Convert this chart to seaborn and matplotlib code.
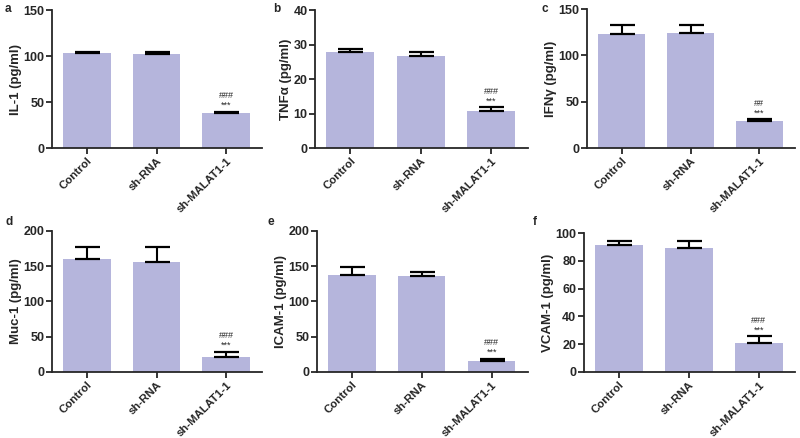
import numpy as np
import pandas as pd
import matplotlib
matplotlib.use("Agg")
import matplotlib.pyplot as plt
import seaborn as sns

sns.set_style("ticks")
plt.rcParams['font.family'] = ['Liberation Sans', 'DejaVu Sans']

groups = ["Control", "sh-RNA", "sh-MALAT1-1"]

panel_letters = ["a", "b", "c", "d", "e", "f"]
ylabels = ["IL-1 (pg/ml)", "TNF\u03b1 (pg/ml)", "IFN\u03b3 (pg/ml)",
           "Muc-1 (pg/ml)", "ICAM-1 (pg/ml)", "VCAM-1 (pg/ml)"]
il1 = [103, 102.5, 38]
il1_err = [1.5, 1.5, 1.2]
tnf = [27.7, 26.7, 10.8]
tnf_err = [1.0, 1.0, 1.0]
ifn = [123, 124, 29]
ifn_err = [10, 8.5, 2]
muc = [160, 156, 21]
muc_err = [17, 21, 7]
icam = [137, 136, 15]
icam_err = [12, 6, 3]
vcam = [91.5, 89.5, 20.5]
vcam_err = [3, 5, 5]
ymax = [150, 40, 150, 200, 200, 100]
ystep = [50, 10, 50, 50, 50, 20]
marks = ["###", "###", "##", "###", "###", "###"]

means = [il1, tnf, ifn, muc, icam, vcam]
errs = [il1_err, tnf_err, ifn_err, muc_err, icam_err, vcam_err]

bar_color = "#b5b5dc"

# axes boxes in figure fractions [left, bottom, width, height]
boxes = [
    [0.065, 0.662, 0.263, 0.315],
    [0.394, 0.662, 0.266, 0.315],
    [0.734, 0.662, 0.260, 0.317],
    [0.065, 0.151, 0.263, 0.322],
    [0.396, 0.151, 0.264, 0.322],
    [0.730, 0.151, 0.264, 0.317],
]
# panel letter positions in pixels (x from left, y from top)
letter_px = [(5, 3), (273, 3), (541, 3), (5, 216), (268, 216), (533, 216)]

fig = plt.figure(figsize=(8, 4.38), dpi=100)

for i in range(6):
    ax = fig.add_axes(boxes[i])
    df = pd.DataFrame({"group": groups, "value": means[i]})
    sns.barplot(data=df, x="group", y="value", color=bar_color, saturation=1,
                width=0.68, errorbar=None, ax=ax)
    for p in ax.patches:
        p.set_edgecolor("none")
    x = np.arange(len(groups))
    ax.errorbar(x, means[i], yerr=[np.zeros(3), errs[i]], fmt="none",
                ecolor="black", elinewidth=1.5, capsize=9, capthick=1.6)
    top3 = means[i][2] + errs[i][2]
    # significance marks stacked above the last bar
    ax.annotate("***", (2, top3), xytext=(0, 1.5), textcoords="offset points",
                ha="center", va="bottom", fontsize=6.5)
    ax.annotate(marks[i], (2, top3), xytext=(0, 8.5), textcoords="offset points",
                ha="center", va="bottom", fontsize=6.5)
    ax.set_ylim(0, ymax[i])
    ax.set_yticks(np.arange(0, ymax[i] + 1, ystep[i]))
    ax.set_xlim(-0.5, 2.52)
    ax.set_xlabel("")
    ax.set_ylabel(ylabels[i], fontsize=9.5, fontweight="bold", labelpad=1)
    ax.set_xticks(x)
    ax.set_xticklabels(groups, rotation=45, ha="right", rotation_mode="anchor",
                       fontsize=8.2, fontweight="bold")
    for lab in ax.get_yticklabels():
        lab.set_fontweight("bold")
        lab.set_fontsize(9)
    sns.despine(ax=ax)
    for s in ["left", "bottom"]:
        ax.spines[s].set_linewidth(1.3)
    ax.tick_params(width=1.3, length=4, pad=1.5)
    lx, ly = letter_px[i]
    fig.text(lx / 800, 1 - ly / 438, panel_letters[i], fontsize=8.5,
             fontweight="bold", va="top")

fig.savefig("out.png", dpi=100)
